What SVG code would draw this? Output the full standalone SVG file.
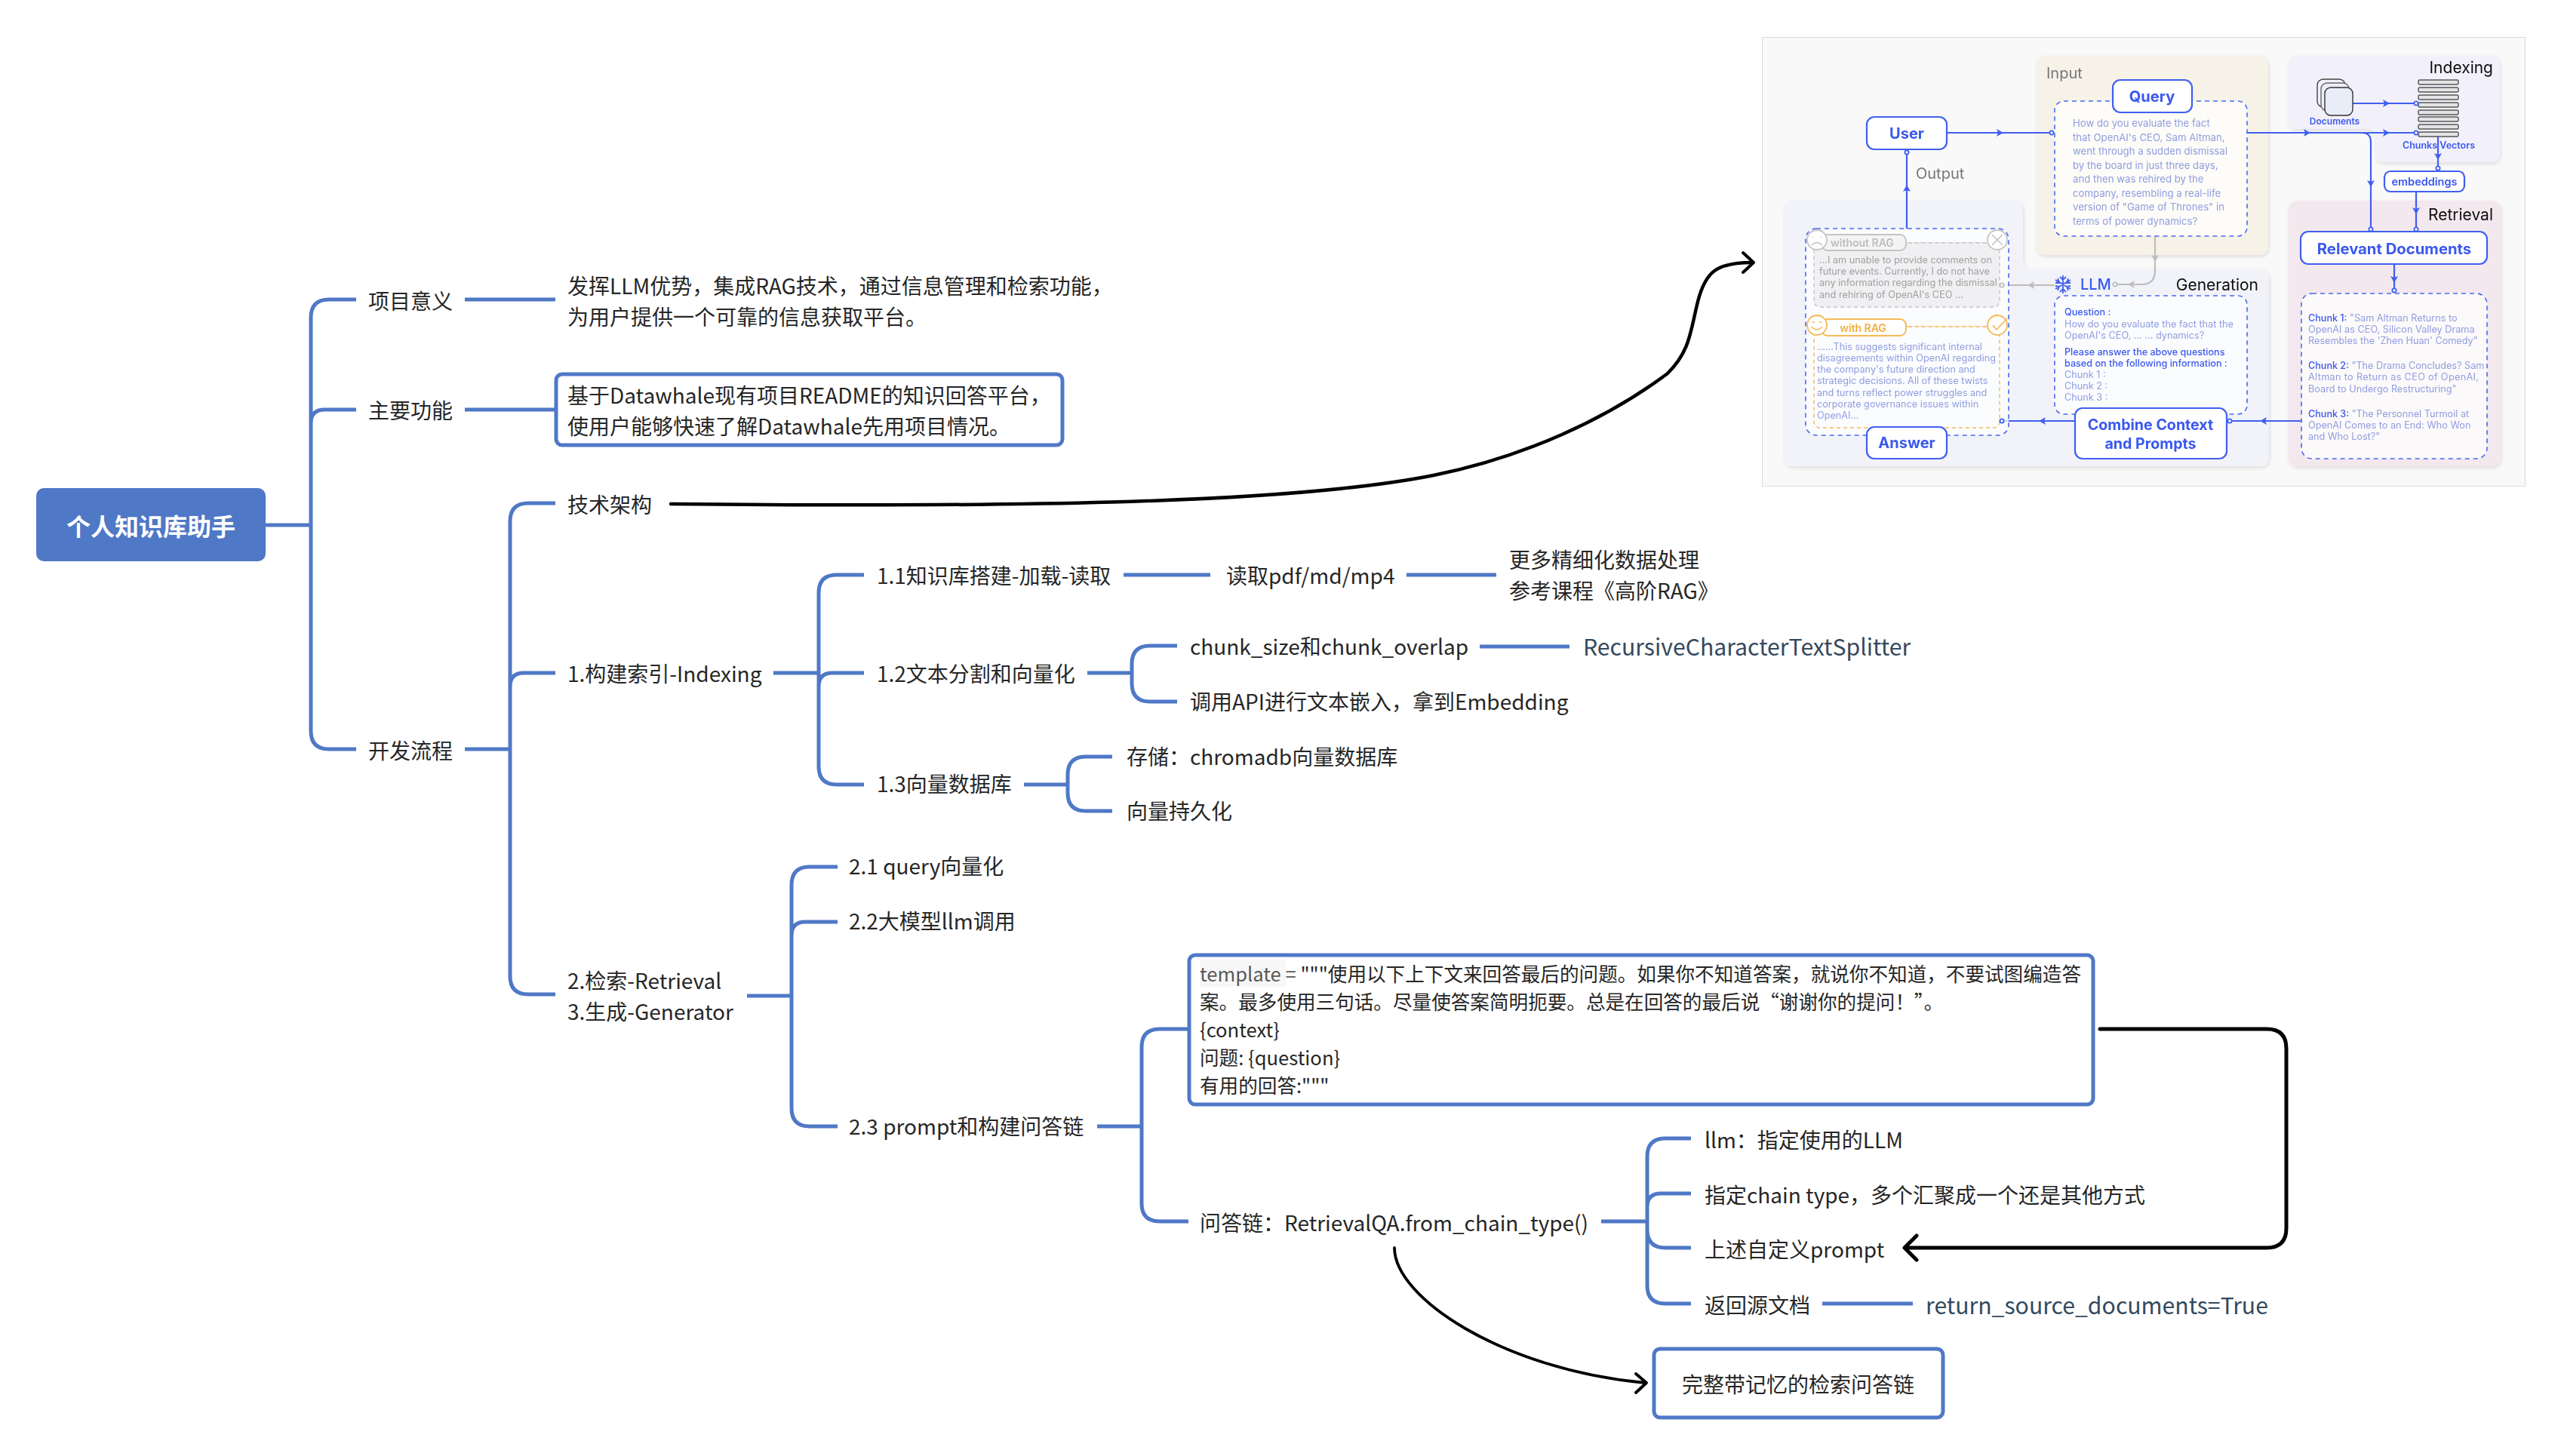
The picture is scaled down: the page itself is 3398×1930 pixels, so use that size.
<svg xmlns="http://www.w3.org/2000/svg" width="3398" height="1930" viewBox="0 0 3398 1930">
<style>
text{font-family:"Noto Sans CJK SC","Noto Sans",sans-serif;dominant-baseline:central}
.t{font-size:28px;fill:#262626;transform:translateY(-2px)}
.p{font-size:25.6px;fill:#262626;transform:translateY(-4px)}
.d{font-size:30.2px;fill:#34495e;transform:translateY(-2px)}
.b{fill:none;stroke:#4f78c6;stroke-width:5;stroke-linecap:butt;stroke-linejoin:round}
.k{fill:none;stroke:#000;stroke-width:4.5;stroke-linecap:round;stroke-linejoin:round}
.box{fill:#fff;stroke:#4f78c6;stroke-width:5}
.r text{font-family:Inter,"Liberation Sans",sans-serif}
.pn{filter:url(#sh)}
.nb{fill:#fff;stroke:#3f5ff0;stroke-width:2.2}
.nt{fill:#3a58ee;font-weight:700;text-anchor:middle}
.ds{fill:#fff;fill-opacity:.72;stroke:#4a68f0;stroke-width:1.6;stroke-dasharray:6 5}
.lb{font-size:13.2px;fill:#8f9ddf}
.lc{font-size:12.7px;fill:#8f9ddf}
.lg{font-size:12.7px;fill:#a0a0a0}
.bl{font-size:12.6px;fill:#3a58ee;font-weight:500}
.h{font-size:21px;fill:#111;text-anchor:end}
.o{font-size:20px;fill:#777}
.c{fill:none;stroke:#3f5ff0;stroke-width:2.2}
.g{fill:none;stroke:#bdbdbd;stroke-width:2.2}
.cb{fill:#fff;stroke:#3f5ff0;stroke-width:1.8}
.cg{fill:#fff;stroke:#bdbdbd;stroke-width:1.8}
.ab{fill:#3f5ff0}
.ag{fill:#bdbdbd}
.bar{fill:#e4e4e4;stroke:#555;stroke-width:1.4}
</style>
<defs>
<filter id="sh" x="-5%" y="-5%" width="110%" height="110%"><feDropShadow dx="1" dy="2" stdDeviation="2.5" flood-color="#000" flood-opacity=".12"/></filter>
<filter id="soft" x="0" y="0" width="100%" height="100%"><feGaussianBlur stdDeviation=".45"/></filter>
<polygon id="ar" points="5,0 -4,-5 -2,0 -4,5"/>
</defs>
<rect width="3398" height="1930" fill="#fff"/>

<g id="connectors">
<path class="b" d="M352 696H412M472 397H436Q412 397 412 421V969Q412 993 436 993H472M472 543H430Q412 543 412 561V700"/>
<path class="b" d="M616 397H736M616 543H736M616 993H676"/>
<path class="b" d="M736 667H700Q676 667 676 691V1294Q676 1318 700 1318H736M736 892H694Q676 892 676 910V1000"/>
<path class="b" d="M1025 892H1085M1145 762H1109Q1085 762 1085 786V1016Q1085 1040 1109 1040H1145M1145 892H1103Q1085 892 1085 910"/>
<path class="b" d="M1489 762H1604M1864 762H1983"/>
<path class="b" d="M1441 892H1500M1560 856H1524Q1500 856 1500 880V906Q1500 930 1524 930H1560"/>
<path class="b" d="M1961 857H2080"/>
<path class="b" d="M1357 1040H1415M1474 1003H1439Q1415 1003 1415 1027V1051Q1415 1075 1439 1075H1474"/>
<path class="b" d="M990 1320H1049M1110 1149H1073Q1049 1149 1049 1173V1469Q1049 1493 1073 1493H1110M1110 1222H1067Q1049 1222 1049 1240"/>
<path class="b" d="M1454 1493H1513M1575 1364H1537Q1513 1364 1513 1388V1595Q1513 1619 1537 1619H1575"/>
<path class="b" d="M2122 1619H2183M2241 1509H2207Q2183 1509 2183 1533V1704Q2183 1728 2207 1728H2241M2241 1582H2201Q2183 1582 2183 1600M2241 1654H2207Q2183 1654 2183 1630"/>
<path class="b" d="M2415 1728H2535"/>
<path class="k" d="M889 668C1300 672 1700 670 1900 630C2020 606 2130 555 2210 495C2240 465 2240 440 2250 400C2260 360 2275 348 2322 348"/>
<path class="k" style="stroke-width:4" d="M2310 335L2324 348L2310 361"/>
<path class="k" style="stroke-width:5" d="M2783 1364H3004Q3030 1364 3030 1390V1628Q3030 1654 3004 1654H2526"/>
<path class="k" style="stroke-width:5" d="M2540 1638L2524 1654L2540 1670"/>
<path class="k" style="stroke-width:3.8" d="M1848 1654C1848 1720 1990 1815 2180 1833"/>
<path class="k" style="stroke-width:4" d="M2168 1821L2182 1833L2168 1846"/>
</g>

<g id="root"><rect x="48" y="647" width="304" height="97" rx="10" fill="#4f78c6"/><text x="200" y="696" text-anchor="middle" font-size="32" font-weight="700" fill="#fff">个人知识库助手</text></g>
<g id="n-meaning"><text class="t" x="488" y="400">项目意义</text></g>
<g id="n-meaning-d"><text class="t" x="752" y="380">发挥LLM优势，集成RAG技术，通过信息管理和检索功能，</text><text class="t" x="752" y="421">为用户提供一个可靠的信息获取平台。</text></g>
<g id="n-func"><text class="t" x="488" y="545">主要功能</text></g>
<g id="n-func-d"><rect class="box" x="737" y="496" width="671" height="94" rx="8"/><text class="t" x="752" y="525">基于Datawhale现有项目README的知识回答平台，</text><text class="t" x="752" y="566">使用户能够快速了解Datawhale先用项目情况。</text></g>
<g id="n-flow"><text class="t" x="488" y="996">开发流程</text></g>
<g id="n-arch"><text class="t" x="752" y="670">技术架构</text></g>
<g id="n-index"><text class="t" x="752" y="894">1.构建索引-Indexing</text></g>
<g id="n-11"><text class="t" x="1162" y="764">1.1知识库搭建-加载-读取</text></g>
<g id="n-read"><text class="t" x="1625" y="764">读取pdf/md/mp4</text></g>
<g id="n-more"><text class="t" x="2000" y="743">更多精细化数据处理</text><text class="t" x="2000" y="784">参考课程《高阶RAG》</text></g>
<g id="n-12"><text class="t" x="1162" y="894">1.2文本分割和向量化</text></g>
<g id="n-chunk"><text class="t" x="1577" y="858">chunk_size和chunk_overlap</text></g>
<g id="n-split"><text class="d" x="2098" y="858">RecursiveCharacterTextSplitter</text></g>
<g id="n-embed"><text class="t" x="1577" y="931">调用API进行文本嵌入，拿到Embedding</text></g>
<g id="n-13"><text class="t" x="1162" y="1040">1.3向量数据库</text></g>
<g id="n-store"><text class="t" x="1493" y="1004">存储：chromadb向量数据库</text></g>
<g id="n-persist"><text class="t" x="1493" y="1076">向量持久化</text></g>
<g id="n-retr"><text class="t" x="752" y="1301">2.检索-Retrieval</text><text class="t" x="752" y="1342">3.生成-Generator</text></g>
<g id="n-21"><text class="t" x="1125" y="1149">2.1 query向量化</text></g>
<g id="n-22"><text class="t" x="1125" y="1222">2.2大模型llm调用</text></g>
<g id="n-23"><text class="t" x="1125" y="1494">2.3 prompt和构建问答链</text></g>
<g id="n-template"><rect class="box" x="1576" y="1266" width="1198" height="198" rx="8"/><rect x="1590" y="1272" width="114" height="36" fill="#f7f7f7"/>
<text class="p" x="1590" y="1293"><tspan fill="#595959">template = </tspan>"""使用以下上下文来回答最后的问题。如果你不知道答案，就说你不知道，不要试图编造答</text><text class="p" x="1590" y="1330">案。最多使用三句话。尽量使答案简明扼要。总是在回答的最后说“谢谢你的提问！”。</text><text class="p" x="1590" y="1367">{context}</text><text class="p" x="1590" y="1404">问题: {question}</text><text class="p" x="1590" y="1441">有用的回答:"""</text></g>
<g id="n-qa"><text class="t" x="1590" y="1622">问答链：RetrievalQA.from_chain_type()</text></g>
<g id="n-llm"><text class="t" x="2259" y="1512">llm：指定使用的LLM</text></g>
<g id="n-type"><text class="t" x="2259" y="1585">指定chain type，多个汇聚成一个还是其他方式</text></g>
<g id="n-prompt"><text class="t" x="2259" y="1657">上述自定义prompt</text></g>
<g id="n-src"><text class="t" x="2259" y="1731">返回源文档</text></g>
<g id="n-true"><text class="d" x="2552" y="1731">return_source_documents=True</text></g>
<g id="n-full"><rect class="box" x="2192" y="1788" width="383" height="91" rx="8"/><text class="t" x="2383" y="1836" text-anchor="middle">完整带记忆的检索问答链</text></g>

<g id="rag" class="r" filter="url(#soft)">
<rect x="2335" y="49" width="1012" height="596" fill="#f9f9f9" stroke="#d0d0d0" stroke-width="1.5"/>
<path class="pn" fill="#f1f3f9" d="M2375 266H2669Q2681 266 2681 278V345Q2681 357 2693 357H2995Q3007 357 3007 369V606Q3007 618 2995 618H2377Q2365 618 2365 606V278Q2365 266 2375 266Z"/>
<rect class="pn" x="2699" y="74" width="307" height="264" rx="12" fill="#f6f2e8"/>
<path class="pn" fill="#f2f0fa" d="M3045 74H3301Q3313 74 3313 86V203Q3313 215 3301 215H3160Q3148 215 3148 203V183Q3148 171 3136 171H3045Q3033 171 3033 159V86Q3033 74 3045 74Z"/>
<rect class="pn" x="3033" y="266" width="281" height="352" rx="12" fill="#f3e8ee"/>

<text class="o" x="2712" y="97">Input</text>
<text class="o" x="2539" y="230">Output</text>
<text class="h" x="3304" y="89">Indexing</text>
<text class="h" x="3304" y="284">Retrieval</text>
<text class="h" x="2993" y="377">Generation</text>

<path class="c" d="M2580 176H2719M2978 176H3202M3130 176Q3142 176 3142 188V304M3117 137H3202M3231 178V223M3202 254V304M3173 350V385M2527 202V303M3050 558H2955M2750 558H2653"/>
<path class="g" d="M2856 313V359Q2856 377 2838 377H2803M2723 378H2653"/>
<use href="#ar" class="ab" x="2650" y="176"/><use href="#ar" class="ab" x="3057" y="176"/><use href="#ar" class="ab" x="3162" y="176"/><use href="#ar" class="ab" x="3162" y="137"/>
<use href="#ar" class="ab" transform="translate(3142 243) rotate(90)"/><use href="#ar" class="ab" transform="translate(3231 207) rotate(90)"/><use href="#ar" class="ab" transform="translate(3202 279) rotate(90)"/><use href="#ar" class="ab" transform="translate(3173 370) rotate(90)"/>
<use href="#ar" class="ab" transform="translate(2527 250) rotate(-90)"/><use href="#ar" class="ab" transform="translate(3000 558) rotate(180)"/><use href="#ar" class="ab" transform="translate(2707 558) rotate(180)"/>
<use href="#ar" class="ag" transform="translate(2856 342) rotate(90)"/><use href="#ar" class="ag" transform="translate(2825 377) rotate(180)"/><use href="#ar" class="ag" transform="translate(2692 378) rotate(180)"/>

<g id="rag-query-text"><rect class="ds" x="2723" y="134" width="255" height="179" rx="12"/>
<text class="lb" x="2747" y="163">How do you evaluate the fact</text><text class="lb" x="2747" y="182">that OpenAI's CEO, Sam Altman,</text><text class="lb" x="2747" y="200">went through a sudden dismissal</text><text class="lb" x="2747" y="219">by the board in just three days,</text><text class="lb" x="2747" y="237">and then was rehired by the</text><text class="lb" x="2747" y="256">company, resembling a real-life</text><text class="lb" x="2747" y="274">version of "Game of Thrones" in</text><text class="lb" x="2747" y="293">terms of power dynamics?</text></g>
<g id="rag-user"><rect class="nb" x="2474" y="155" width="106" height="43" rx="10"/><text class="nt" x="2527" y="177" font-size="20">User</text></g>
<g id="rag-query"><rect class="nb" x="2800" y="106" width="105" height="43" rx="10"/><text class="nt" x="2852" y="128" font-size="20">Query</text></g>
<g id="rag-docs"><rect x="3071" y="105" width="37" height="37" rx="8" fill="#f2f0fa" stroke="#444" stroke-width="1.4"/><rect x="3076" y="110" width="37" height="37" rx="8" fill="#eceef8" stroke="#666" stroke-width="1.4"/><rect x="3081" y="116" width="37" height="37" rx="8" fill="#e8edf8" stroke="#333" stroke-width="1.4"/><text class="nt" x="3094" y="160" font-size="12" style="font-weight:600">Documents</text></g>
<g id="rag-chunks"><rect class="bar" x="3205" y="106" width="53" height="6" rx="2"/><rect class="bar" x="3205" y="116" width="53" height="6" rx="2"/><rect class="bar" x="3205" y="126" width="53" height="6" rx="2"/><rect class="bar" x="3205" y="136" width="53" height="6" rx="2"/><rect class="bar" x="3205" y="146" width="53" height="6" rx="2"/><rect class="bar" x="3205" y="155" width="53" height="6" rx="2"/><rect class="bar" x="3205" y="165" width="53" height="6" rx="2"/><rect class="bar" x="3205" y="175" width="53" height="6" rx="2"/><text class="nt" x="3232" y="192" font-size="12.5" style="font-weight:600">Chunks Vectors</text></g>
<g id="rag-embeddings"><rect class="nb" x="3160" y="227" width="106" height="27" rx="8"/><text class="nt" x="3213" y="240" font-size="14.5" style="font-weight:600">embeddings</text></g>
<g id="rag-relevant"><rect class="nb" x="3049" y="307" width="247" height="43" rx="10"/><text class="nt" x="3173" y="329" font-size="20.3">Relevant Documents</text></g>
<g id="rag-chunkbox"><rect class="ds" x="3050" y="389" width="246" height="219" rx="14"/>
<text class="lc" x="3059" y="421"><tspan class="bl">Chunk 1:</tspan> "Sam Altman Returns to</text><text class="lc" x="3059" y="436">OpenAI as CEO, Silicon Valley Drama</text><text class="lc" x="3059" y="451">Resembles the 'Zhen Huan' Comedy"</text>
<text class="lc" x="3059" y="484"><tspan class="bl">Chunk 2:</tspan> "The Drama Concludes? Sam</text><text class="lc" x="3059" y="499" textLength="226">Altman to Return as CEO of OpenAI,</text><text class="lc" x="3059" y="515">Board to Undergo Restructuring"</text>
<text class="lc" x="3059" y="548"><tspan class="bl">Chunk 3:</tspan> "The Personnel Turmoil at</text><text class="lc" x="3059" y="563">OpenAI Comes to an End: Who Won</text><text class="lc" x="3059" y="578">and Who Lost?"</text></g>
<g id="rag-llm"><path d="M2734 365V389M2724 371L2744 383M2724 383L2744 371M2730 367L2734 371L2738 367M2730 387L2734 383L2738 387M2724 375L2729 374L2727 369M2744 379L2739 380L2741 385M2724 379L2729 380L2727 385M2744 375L2739 374L2741 369" fill="none" stroke="#3f5ff0" stroke-width="1.8"/><text x="2757" y="377" font-size="20" font-weight="500" fill="#3a58ee">LLM</text></g>
<g id="rag-prompt"><rect class="ds" x="2723" y="392" width="255" height="157" rx="12"/>
<text class="bl" x="2736" y="413">Question :</text><text class="lc" x="2736" y="429" textLength="224">How do you evaluate the fact that the</text><text class="lc" x="2736" y="444">OpenAI's CEO, ... ... dynamics?</text><text class="bl" x="2736" y="466">Please answer the above questions</text><text class="bl" x="2736" y="481">based on the following information :</text><text class="lc" x="2736" y="496">Chunk 1 :</text><text class="lc" x="2736" y="511">Chunk 2 :</text><text class="lc" x="2736" y="526">Chunk 3 :</text></g>
<g id="rag-combine"><rect class="nb" x="2750" y="541" width="201" height="67" rx="10"/><text class="nt" x="2850" y="563" font-size="19.6">Combine Context</text><text class="nt" x="2850" y="588" font-size="19.6">and Prompts</text></g>
<g id="rag-answerbox"><rect class="ds" x="2393" y="303" width="269" height="274" rx="14"/>
<path d="M2526 322H2636" fill="none" stroke="#c4c4c4" stroke-width="1.4" stroke-dasharray="5 4"/>
<rect x="2404" y="322" width="246" height="85" rx="8" fill="#f0f0f3" stroke="#c4c4c4" stroke-width="1.4" stroke-dasharray="5 4"/>
<rect x="2414" y="311" width="112" height="21" rx="8" fill="#f4f4f6" stroke="#c4c4c4" stroke-width="2"/><text x="2426" y="321" font-size="14" font-weight="600" fill="#bdbdbd">without RAG</text>
<circle cx="2408" cy="318" r="13" fill="#fff" stroke="#c4c4c4" stroke-width="1.8"/><path d="M2401 325Q2408 318 2415 325M2403 314V315M2413 314V315" fill="none" stroke="#bdbdbd" stroke-width="1.6"/>
<circle cx="2647" cy="318" r="13" fill="#fff" stroke="#c4c4c4" stroke-width="1.8"/><path d="M2640 311L2654 325M2654 311L2640 325" stroke="#c4c4c4" stroke-width="1.6"/>
<text class="lg" x="2411" y="344">...I am unable to provide comments on</text><text class="lg" x="2411" y="359">future events. Currently, I do not have</text><text class="lg" x="2411" y="374">any information regarding the dismissal</text><text class="lg" x="2411" y="390">and rehiring of OpenAI's CEO ...</text>
<path d="M2526 433H2636" fill="none" stroke="#f5b956" stroke-width="1.4" stroke-dasharray="5 4"/>
<rect x="2404" y="433" width="246" height="134" rx="8" fill="#fbfcfe" stroke="#f5b956" stroke-width="1.4" stroke-dasharray="5 4"/>
<rect x="2414" y="423" width="112" height="22" rx="8" fill="#fff" stroke="#f5b956" stroke-width="2"/><text x="2469" y="434" font-size="14" font-weight="600" fill="#f2ae3d" text-anchor="middle">with RAG</text>
<circle cx="2408" cy="431" r="13" fill="#fff" stroke="#f5b956" stroke-width="1.8"/><path d="M2401 433Q2408 441 2415 433M2402 427H2405M2411 427H2414" fill="none" stroke="#f5b956" stroke-width="1.6"/>
<circle cx="2647" cy="431" r="13" fill="#fff" stroke="#f5b956" stroke-width="1.8"/><path d="M2641 431L2646 437L2660 422" fill="none" stroke="#f5b956" stroke-width="1.8"/>
<text class="lc" x="2408" y="459">......This suggests significant internal</text><text class="lc" x="2408" y="474">disagreements within OpenAI regarding</text><text class="lc" x="2408" y="489">the company's future direction and</text><text class="lc" x="2408" y="504">strategic decisions. All of these twists</text><text class="lc" x="2408" y="520">and turns reflect power struggles and</text><text class="lc" x="2408" y="535">corporate governance issues within</text><text class="lc" x="2408" y="550">OpenAI...</text></g>
<g id="rag-answer"><rect class="nb" x="2474" y="566" width="106" height="42" rx="10"/><text class="nt" x="2527" y="587" font-size="20">Answer</text></g>
<circle class="cb" cx="2527" cy="202" r="2.6"/><circle class="cb" cx="2719" cy="176" r="2.6"/><circle class="cb" cx="3202" cy="137" r="2.6"/><circle class="cb" cx="3202" cy="176" r="2.6"/><circle class="cb" cx="3231" cy="223" r="2.6"/><circle class="cb" cx="3142" cy="304" r="2.6"/><circle class="cb" cx="3202" cy="304" r="2.6"/><circle class="cb" cx="3173" cy="385" r="2.6"/><circle class="cb" cx="2955" cy="558" r="2.6"/><circle class="cb" cx="2653" cy="558" r="2.6"/><circle class="cg" cx="2803" cy="377" r="2.6"/><circle class="cg" cx="2653" cy="378" r="2.6"/>
</g>
</svg>
